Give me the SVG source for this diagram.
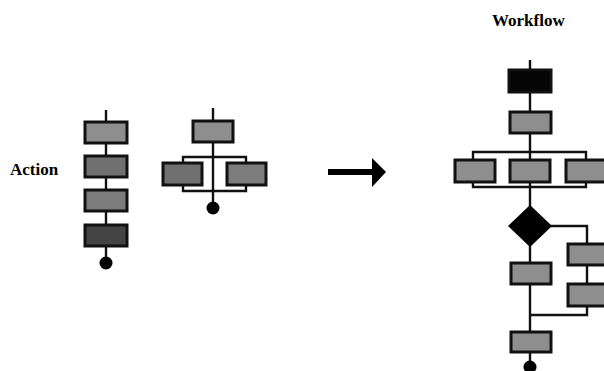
<svg xmlns="http://www.w3.org/2000/svg" width="604" height="371" viewBox="0 0 604 371">
<style>
.ln{stroke:#111;stroke-width:2.4;fill:none}
.bx{stroke:#111;stroke-width:3}
.g1{fill:#8e8e8e}
.g2{fill:#707070}
.g3{fill:#7c7c7c}
.g4{fill:#444}
.blk{fill:#050505}
.lbl{font-family:"Liberation Serif",serif;font-weight:bold;fill:#000}
</style>
<rect width="604" height="371" fill="#fff"/>
<g id="connectors">
<line class="ln" x1="106" y1="110" x2="106" y2="260"/>
<line class="ln" x1="213" y1="108" x2="213" y2="206"/>
<polyline class="ln" points="183,185 183,157 246,157 246,185"/>
<polyline class="ln" points="183,180 183,191 246,191 246,180"/>
<line class="ln" x1="530" y1="60" x2="530" y2="364"/>
<polyline class="ln" points="473,180 473,152 586,152 586,180"/>
<polyline class="ln" points="473,175 473,187 586,187 586,175"/>
<polyline class="ln" points="550,226 587,226 587,315 530,315"/>
</g>
<g id="action-label"><text class="lbl" x="10" y="175" font-size="17">Action</text></g>
<g id="workflow-label"><text class="lbl" x="492" y="26" font-size="17">Workflow</text></g>
<g id="a1"><rect class="bx g1" x="85" y="122" width="42" height="21"/></g>
<g id="a2"><rect class="bx g2" x="85" y="156" width="42" height="21"/></g>
<g id="a3"><rect class="bx g3" x="85" y="190" width="42" height="21"/></g>
<g id="a4"><rect class="bx g4" x="85" y="225" width="42" height="21"/></g>
<g id="a-end"><circle cx="106" cy="263" r="6.5" fill="#000"/></g>
<g id="b1"><rect class="bx g1" x="193" y="121" width="40" height="21"/></g>
<g id="b2"><rect class="bx g2" x="163" y="163" width="39" height="22"/></g>
<g id="b3"><rect class="bx g3" x="227" y="163" width="39" height="22"/></g>
<g id="b-end"><circle cx="213" cy="208" r="6.5" fill="#000"/></g>
<g id="arrow"><rect x="328" y="169" width="45" height="6" fill="#000"/><polygon points="372,158 386,172 372,187" fill="#000"/></g>
<g id="w-start"><rect class="bx blk" x="509" y="70" width="42" height="22"/></g>
<g id="w1"><rect class="bx g1" x="510" y="112" width="41" height="21"/></g>
<g id="w2"><rect class="bx g1" x="455" y="160" width="40" height="22"/></g>
<g id="w3"><rect class="bx g1" x="510" y="160" width="40" height="22"/></g>
<g id="w4"><rect class="bx g1" x="566" y="160" width="42" height="22"/></g>
<g id="w-decision"><polygon points="530,205 552,226 530,247 508,226" fill="#000"/></g>
<g id="w5"><rect class="bx g1" x="511" y="263" width="40" height="21"/></g>
<g id="w6"><rect class="bx g1" x="568" y="244" width="42" height="21"/></g>
<g id="w7"><rect class="bx g1" x="568" y="284" width="42" height="22"/></g>
<g id="w8"><rect class="bx g1" x="511" y="332" width="40" height="20"/></g>
<g id="w-end"><circle cx="530" cy="367" r="6.5" fill="#000"/></g>
</svg>
